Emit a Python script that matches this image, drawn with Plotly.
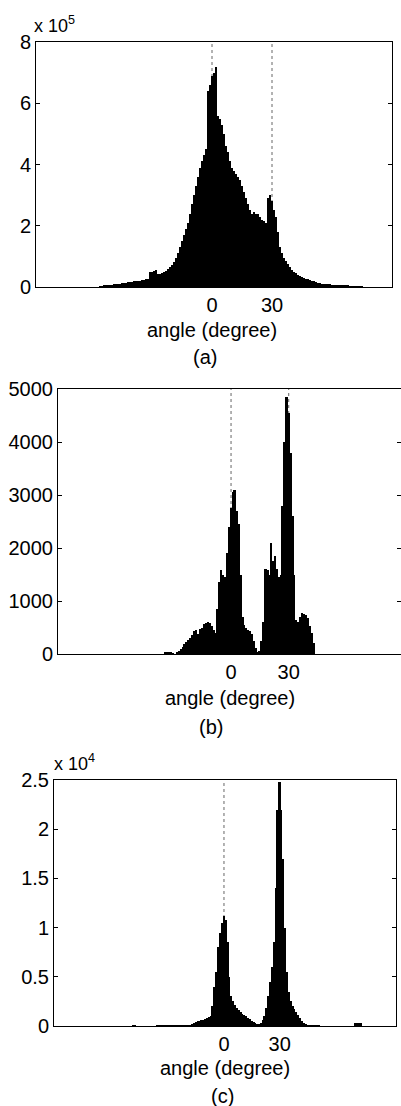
import plotly.graph_objects as go

# ---------------- data ----------------
# panel (a): counts in units of 1e5, 1-degree bins starting at -56
start_a = -56
values_a = [0.02, 0.03, 0.05, 0.06, 0.06, 0.07, 0.08, 0.09, 0.10, 0.10,
            0.11, 0.12, 0.13, 0.14, 0.15, 0.16, 0.17, 0.18, 0.19, 0.20,
            0.21, 0.22, 0.23, 0.25, 0.27, 0.48, 0.50, 0.52, 0.55, 0.42,
            0.42, 0.45, 0.48, 0.52, 0.58, 0.65, 0.72, 0.82, 0.95, 1.10,
            1.30, 1.50, 1.70, 1.90, 2.10, 2.40, 2.70, 3.00, 3.30, 3.60,
            3.90, 4.10, 4.30, 4.50, 6.40, 6.60, 6.90, 7.00, 7.20, 5.60,
            5.50, 5.30, 5.00, 4.60, 4.40, 4.10, 3.90, 3.80, 3.70, 3.60,
            3.50, 3.30, 3.10, 2.90, 2.70, 2.50, 2.40, 2.45, 2.40, 2.40,
            2.30, 2.20, 2.15, 2.10, 2.90, 3.00, 2.80, 2.50, 2.30, 1.80,
            1.30, 1.10, 0.95, 0.85, 0.75, 0.65, 0.55, 0.50, 0.45, 0.40,
            0.36, 0.32, 0.30, 0.27, 0.25, 0.23, 0.20, 0.18, 0.16, 0.14,
            0.12, 0.11, 0.10, 0.10, 0.09, 0.09, 0.08, 0.07, 0.07, 0.06,
            0.06, 0.05, 0.05, 0.04, 0.04, 0.03, 0.03, 0.03, 0.02, 0.02,
            0.01, 0.01]

# panel (b): counts, 1-degree bins starting at -34
start_b = -34
values_b = [20, 40, 40, 30, 15, 0, 30, 60, 100, 140,
            180, 230, 270, 300, 350, 430, 450, 380, 470, 500,
            560, 590, 610, 580, 520, 450, 400, 850, 1350, 1580,
            1500, 1450, 1900, 2400, 2750, 3050, 3100, 2700, 2450, 1500,
            700, 550, 500, 460, 430, 380, 250, 120, 40, 60,
            250, 600, 1600, 1580, 1500, 2100, 1750, 1850, 1600, 1450,
            1500, 2800, 4000, 4850, 4550, 3800, 2600, 1500, 650, 600,
            700, 780, 760, 740, 680, 520, 400, 200]

# panel (c): counts in units of 1e4, 1-degree bins starting at -50
start_c = -50
values_c = [0, 0.008, 0.008, 0, 0, 0, 0, 0, 0, 0,
            0, 0, 0, 0, 0.006, 0.006, 0.006, 0.006, 0.006, 0.006,
            0.006, 0.006, 0.006, 0.006, 0.006, 0.006, 0.006, 0.006, 0.006, 0.01,
            0.01, 0.01, 0.01, 0.02, 0.03, 0.04, 0.05, 0.05, 0.06, 0.06,
            0.07, 0.08, 0.09, 0.10, 0.20, 0.40, 0.55, 0.80, 0.95, 1.05,
            1.12, 1.08, 0.85, 0.50, 0.30, 0.25, 0.21, 0.18, 0.16, 0.14,
            0.12, 0.11, 0.10, 0.08, 0.07, 0.05, 0.04, 0.03, 0.02, 0.02,
            0.03, 0.06, 0.10, 0.18, 0.30, 0.45, 0.60, 0.85, 1.40, 2.20,
            2.48, 2.20, 1.70, 1.00, 0.55, 0.35, 0.25, 0.20, 0.17, 0.14,
            0.11, 0.08, 0.05, 0.03, 0.02, 0.01, 0.01, 0.01, 0.01, 0.01,
            0.01, 0.01, 0, 0, 0, 0, 0, 0, 0, 0,
            0, 0, 0, 0, 0, 0, 0, 0, 0, 0,
            0, 0.03, 0.03, 0.03, 0.03]

angles_a = [start_a + i for i in range(len(values_a))]
angles_b = [start_b + i for i in range(len(values_b))]
angles_c = [start_c + i for i in range(len(values_c))]

x_tick_vals = [0, 30]
x_tick_text = ["0", "30"]
x_title = "angle (degree)"
panel_labels = ["(a)", "(b)", "(c)"]
y_ticks_a = [0, 2, 4, 6, 8]
y_ticks_b = [0, 1000, 2000, 3000, 4000, 5000]
y_ticks_c = [0, 0.5, 1, 1.5, 2, 2.5]
y_tick_text_c = ["0", "0.5", "1", "1.5", "2", "2.5"]

# ---------------- layout ----------------
W, H = 401, 1106
FONT = "Liberation Sans, Arial, sans-serif"
FS = 20


def px_x(v):
    return v / W


def px_y(v):
    return 1 - v / H


fig = go.Figure()
for i, (ang, val) in enumerate([(angles_a, values_a), (angles_b, values_b), (angles_c, values_c)]):
    sfx = "" if i == 0 else str(i + 1)
    fig.add_trace(go.Bar(x=ang, y=val, width=1, marker=dict(color="black", line=dict(width=0)),
                         xaxis="x" + sfx, yaxis="y" + sfx, showlegend=False, hoverinfo="skip"))

# panel geometry in pixels: (left, right, top, bottom, xrange, yrange, yticks, yticktext)
panels = [
    (36, 392, 42, 287, [-88, 90], [0, 8], y_ticks_a, [str(t) for t in y_ticks_a]),
    (58, 401, 389, 654, [-90, 88.4], [0, 5000], y_ticks_b, [str(t) for t in y_ticks_b]),
    (54, 396, 780, 1026, [-91.6, 92.7], [0, 2.5], y_ticks_c, y_tick_text_c),
]

axis_common = dict(showline=True, linecolor="black", linewidth=1,
                   showgrid=False, zeroline=False, automargin=False,
                   tickfont=dict(family=FONT, size=FS, color="black"))

layout = dict(template="none", width=W, height=H, margin=dict(l=0, r=0, t=0, b=0, pad=0),
              paper_bgcolor="white", plot_bgcolor="white", bargap=0,
              showlegend=False)
shapes = []
for i, (l, r, t, b, xr, yr, yt, ytt) in enumerate(panels):
    sfx = "" if i == 0 else str(i + 1)
    layout["xaxis" + sfx] = dict(domain=[px_x(l), px_x(r)], range=xr, anchor="y" + sfx,
                                 tickvals=x_tick_vals, ticktext=x_tick_text, ticks="",
                                 mirror=True, **axis_common)
    layout["yaxis" + sfx] = dict(domain=[px_y(b), px_y(t)], range=yr, anchor="x" + sfx,
                                 tickvals=yt, ticktext=ytt, ticks="inside", ticklen=4,
                                 tickcolor="black", mirror="ticks", **axis_common)
    for xv in x_tick_vals:
        shapes.append(dict(type="line", xref="x" + sfx, yref="y" + sfx + " domain",
                           x0=xv, x1=xv, y0=0, y1=1, layer="below",
                           line=dict(color="#666666", width=1, dash="dot")))
layout["shapes"] = shapes

annots = []
txt_font = dict(family=FONT, size=FS, color="black")
# x titles and panel labels (pixel centres)
for (cx, cy, text) in [(212, 330, x_title), (205, 357, panel_labels[0]),
                       (230, 698, x_title), (211, 727, panel_labels[1]),
                       (225, 1068, x_title), (222, 1096, panel_labels[2])]:
    annots.append(dict(text=text, x=px_x(cx), y=px_y(cy), xref="paper", yref="paper",
                       xanchor="center", yanchor="middle", showarrow=False, font=txt_font))
# exponent labels
for (lx, cy, text) in [(32, 25, "x 10<sup>5</sup>"), (52, 762, "x 10<sup>4</sup>")]:
    annots.append(dict(text=text, x=px_x(lx), y=px_y(cy), xref="paper", yref="paper",
                       xanchor="left", yanchor="middle", showarrow=False,
                       font=dict(family=FONT, size=18, color="black")))
layout["annotations"] = annots

fig.update_layout(**layout)
fig.write_html("out.html", config={"displayModeBar": False},
               post_script="document.body.style.margin='0';document.body.style.overflow='hidden';")
